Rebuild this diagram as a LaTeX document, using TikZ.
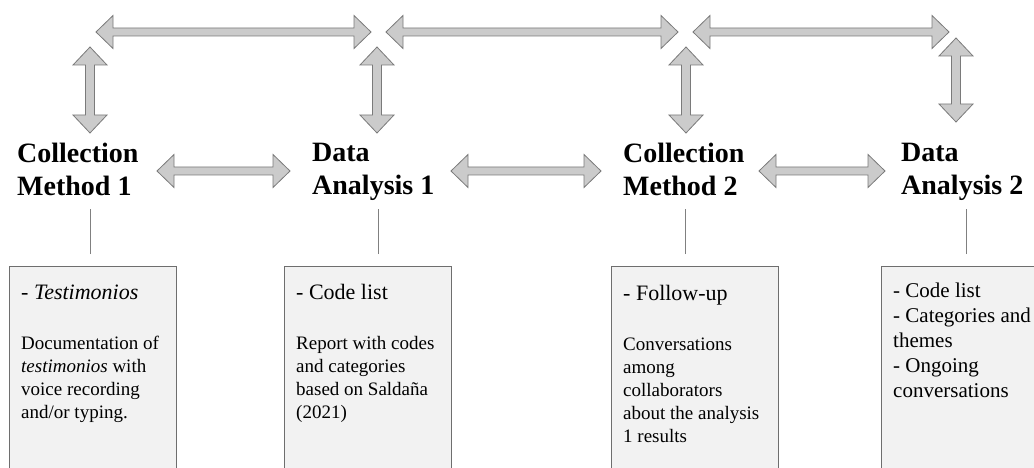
\documentclass[tikz,border=0pt]{standalone}
\usepackage{fontspec}
\setmainfont{Liberation Serif}
\usetikzlibrary{positioning}

\definecolor{arrowfill}{HTML}{CBCBCB}
\definecolor{arrowline}{HTML}{7A7A7A}
\definecolor{panelfill}{HTML}{F2F2F2}
\definecolor{panelline}{HTML}{6E6E6E}

% double block arrows: \hdbl{y}{x left}{x right}, \vdbl{x}{y top}{y bottom}
\newcommand\hdbl[3]{\filldraw[blockarrow] (#2,#1) -- ++(17,16.5) -- ++(0,-12.5) -- (#3-17,#1+4) -- ++(0,12.5) -- (#3,#1) -- ++(-17,-16.5) -- ++(0,12.5) -- (#2+17,#1-4) -- ++(0,-12.5) -- cycle;}
\newcommand\vdbl[3]{\filldraw[blockarrow] (#1,#2) -- ++(17,-18) -- ++(-12.5,0) -- (#1+4.5,#3+18) -- ++(12.5,0) -- (#1,#3) -- ++(-17,18) -- ++(12.5,0) -- (#1-4.5,#2-18) -- ++(-12.5,0) -- cycle;}

\begin{document}
\begin{tikzpicture}[x=1pt,y=1pt,
  blockarrow/.style={fill=arrowfill,draw=arrowline,line width=0.8pt,line join=miter},
  phase/.style={anchor=north west,inner sep=0pt,align=left,font=\fontsize{28}{33}\selectfont\bfseries},
  panel/.style={anchor=north west,draw=panelline,fill=panelfill,line width=0.8pt,minimum width=167pt,minimum height=230pt,inner sep=0pt},
  head/.style={anchor=base west,inner sep=0pt,font=\fontsize{22}{26}\selectfont},
  body/.style={anchor=north west,inner sep=0pt,align=left,font=\fontsize{19}{23}\selectfont},
  stem/.style={draw=gray,line width=0.6pt}]
\fill[white] (0,0) rectangle (1034,-468);
\clip (0,0) rectangle (1034,-468);

% phases
\node[phase] (cm1) at (17,-143) {Collection\\Method 1};
\node[phase] (da1) at (312,-143) {Data\\Analysis 1};
\node[phase] (cm2) at (623,-143) {Collection\\Method 2};
\node[phase] (da2) at (901,-143) {Data\\Analysis 2};

% panels
\node[panel] (b1) at (9,-266) {};
\node[panel] (b2) at (284,-266) {};
\node[panel] (b3) at (611,-266) {};
\node[panel,minimum width=175pt] (b4) at (881,-266) {};

\node[head] (h1) at ([shift={(12,-33)}]b1.north west) {- \textit{Testimonios}};
\node[body] (t1) at ([shift={(12,-70)}]b1.north west) {Documentation of\\\textit{testimonios} with\\voice recording\\and/or typing.};
\node[head] (h2) at ([shift={(12,-33)}]b2.north west) {- Code list};
\node[body] (t2) at ([shift={(12,-70)}]b2.north west) {Report with codes\\and categories\\based on Saldaña\\(2021)};
\node[head] (h3) at ([shift={(12,-34)}]b3.north west) {- Follow-up};
\node[body] (t3) at ([shift={(12,-72)}]b3.north west) {Conversations\\among\\collaborators\\about the analysis\\1 results};
\node[body,font=\fontsize{21}{25}\selectfont] (t4) at ([shift={(12,-17)}]b4.north west) {- Code list\\- Categories and\\themes\\- Ongoing\\conversations};

% stems
\draw[stem] ([shift={(-2.5,12)}]b1.north) -- ++(0,45);
\draw[stem] ([shift={(10.5,12)}]b2.north) -- ++(0,45);
\draw[stem] ([shift={(-9.5,12)}]b3.north) -- ++(0,45);
\draw[stem] ([shift={(-2.5,12)}]b4.north) -- ++(0,45);

% arrows between phases
\hdbl{-171}{157}{290}
\hdbl{-171}{451}{601}
\hdbl{-171}{759}{885}

% top loop
\hdbl{-32}{96}{371}
\hdbl{-32}{386}{678}
\hdbl{-32}{693}{949}
\vdbl{90}{-47}{-133}
\vdbl{377}{-47}{-133}
\vdbl{686}{-47}{-133}
\vdbl{956}{-38}{-122}
\end{tikzpicture}
\end{document}
